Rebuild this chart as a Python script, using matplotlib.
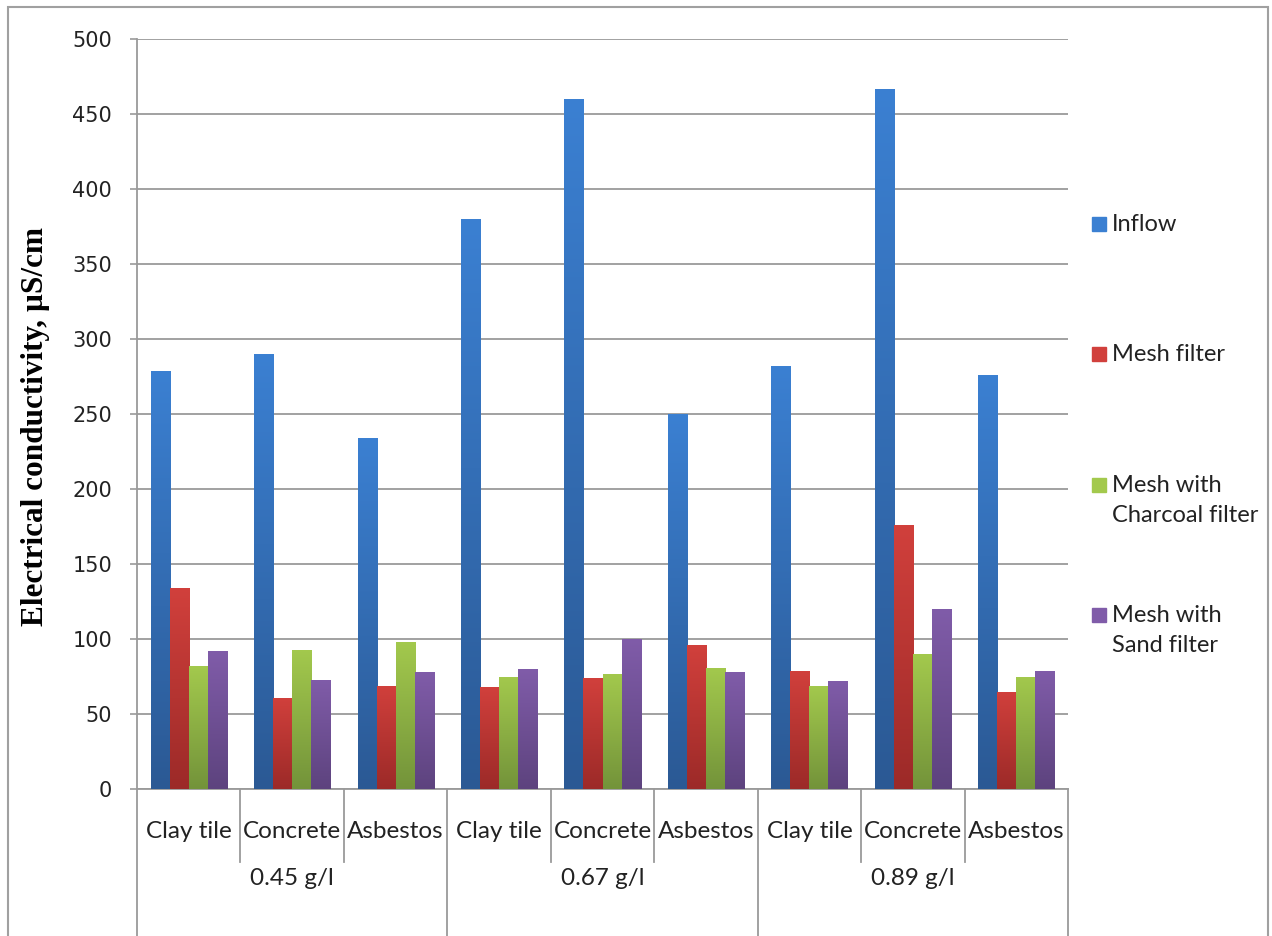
import numpy as np
import matplotlib
matplotlib.use('Agg')
import matplotlib.pyplot as plt
from matplotlib.colors import LinearSegmentedColormap
from matplotlib.patches import Rectangle

# data (µS/cm)
groups = ['0.45 g/l', '0.67 g/l', '0.89 g/l']
roofs = ['Clay tile', 'Concrete', 'Asbestos']
series = ['Inflow', 'Mesh filter', 'Mesh with\nCharcoal filter', 'Mesh with\nSand filter']

inflow = [279, 290, 234, 380, 460, 250, 282, 467, 276]
mesh = [134, 61, 69, 68, 74, 96, 79, 176, 65]
charcoal = [82, 93, 98, 75, 77, 81, 69, 90, 75]
sand = [92, 73, 78, 80, 100, 78, 72, 120, 79]

# (top colour, bottom colour) for the Excel-like gradient
shades = [('#3b80d2', '#2b5994'), ('#d1403c', '#9c2a28'),
          ('#a3c94d', '#73933a'), ('#805ca9', '#5d437e')]

fig = plt.figure(figsize=(12.72, 9.36), dpi=100)
ax = fig.add_axes([137 / 1272, 147 / 936, 931 / 1272, 750 / 936])

n = len(inflow)
x = np.arange(n)
bw = 0.184
grad = np.linspace(0, 1, 256).reshape(-1, 1)

for k, vals in enumerate([inflow, mesh, charcoal, sand]):
    cmap = LinearSegmentedColormap.from_list('c%d' % k, [shades[k][1], shades[k][0]])
    bars = ax.bar(x + (k - 1.5) * bw, vals, bw, color=shades[k][0],
                  edgecolor='none', zorder=3)
    for b in bars:
        x0, y0 = b.get_x(), b.get_y()
        im = ax.imshow(grad, cmap=cmap, origin='lower', aspect='auto',
                       extent=[x0, x0 + b.get_width(), y0, y0 + b.get_height()],
                       zorder=3)
        im.set_clip_path(b)

ax.set_xlim(-0.5, n - 0.5)
ax.set_ylim(0, 500)
ax.set_yticks(range(0, 501, 50))
ax.yaxis.grid(True, color='#9a9a9a', linewidth=1.3)
ax.set_axisbelow(True)
ax.tick_params(axis='y', length=5, width=1.2, color='#9a9a9a', pad=13,
               labelsize=15, labelcolor='#222222')
ax.set_xticks([])
for s in ['top', 'right']:
    ax.spines[s].set_visible(False)
for s in ['left', 'bottom']:
    ax.spines[s].set_color('#9a9a9a')
    ax.spines[s].set_linewidth(1.3)

ax.set_ylabel('Electrical conductivity, µS/cm', family='Liberation Serif',
              fontweight='bold', fontsize=22.5)
ax.yaxis.set_label_coords(-0.093, 0.483)

# two-level category axis below the plot
tr = ax.get_xaxis_transform()
for i in range(n + 1):
    bottom = -0.2 if i % 3 == 0 else -0.097
    ax.plot([i - 0.5, i - 0.5], [0, bottom], transform=tr, color='#9a9a9a',
            linewidth=1.3, clip_on=False)
for i in range(n):
    ax.text(i, -0.056, roofs[i % 3], transform=tr, ha='center', va='center',
            family='Lato', fontsize=17.5, color='#222222')
for g, name in enumerate(groups):
    ax.text(3 * g + 1, -0.119, name, transform=tr, ha='center', va='center',
            family='Lato', fontsize=17.5, color='#222222')

# legend on the right
legend_y = [224, 354, 485, 615]
for k, label in enumerate(series):
    yy = 1 - legend_y[k] / 936
    fig.patches.append(Rectangle((1092 / 1272, yy - 7 / 936), 14 / 1272, 14 / 936,
                                 transform=fig.transFigure, color=shades[k][0]))
    fig.text(1112 / 1272, yy + 10 / 936, label, ha='left', va='top',
             family='Lato', fontsize=17, color='#222222', linespacing=1.5)

# outer chart border
fig.patches.append(Rectangle((8 / 1272, -0.02), 1260 / 1272, 1.012,
                             transform=fig.transFigure, fill=False,
                             edgecolor='#a0a0a0', linewidth=1.5))

fig.savefig('out.png', dpi=100)
